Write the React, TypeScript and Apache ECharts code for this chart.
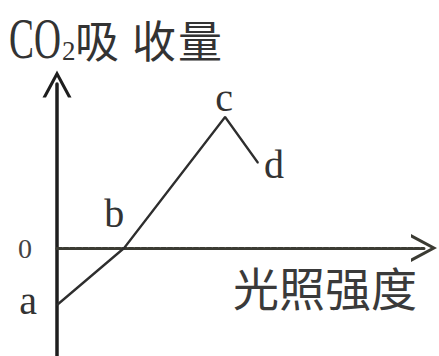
import React, { useEffect, useRef } from "react";
import * as echarts from "echarts";

// Data
const pointNames = ["a", "b", "c", "d"];
const lightIntensity = [0, 1.83, 4.58, 5.48];
const co2Uptake = [-1.425, 0, 3.275, 2.125];
const yTickValues = [0];
const xAxisTitle = "光照强度";
const yAxisTitleLatin = "CO";
const yAxisTitleSub = "2";
const yAxisTitleChars = ["吸", "收", "量"];

// label placement (pixels, relative to each point)
const labelOffsets: [number, number][] = [
  [-29, -5],
  [-10, -35],
  [-1, -20],
  [16, 1],
];
const titleCharX = [97, 154, 200];

const INK = "#2e2e2e";
const SERIF = "'Liberation Serif', 'DejaVu Serif', serif";
const CJK = "'Noto Sans CJK SC', sans-serif";

export default function App() {
  const ref = useRef<HTMLDivElement>(null);
  useEffect(() => {
    if (!ref.current) return;
    const chart = echarts.init(ref.current, null, { renderer: "svg" });
    const upChevron =
      "path://M0,27 L14.5,0 L29,27 L25.5,27 L14.5,6.5 L3.5,27 Z";
    chart.setOption({
      animation: false,
      backgroundColor: "#ffffff",
      grid: { left: 57, right: 15, top: 84, bottom: 0, containLabel: false },
      xAxis: {
        type: "value",
        min: 0,
        max: 10,
        axisLine: {
          show: true,
          onZero: true,
          symbol: ["none", upChevron],
          symbolSize: [30, 26],
          lineStyle: { color: "#3b3b33", width: 3, type: [5, 1.5] },
        },
        axisTick: { show: false },
        axisLabel: { show: false },
        splitLine: { show: false },
      },
      yAxis: {
        type: "value",
        min: -2.7,
        max: 4.1,
        axisLine: {
          show: true,
          onZero: true,
          symbol: ["none", upChevron],
          symbolSize: [29, 27],
          lineStyle: { color: "#1e1e1e", width: 3.5 },
        },
        axisTick: { show: false },
        splitLine: { show: false },
        axisLabel: {
          show: true,
          customValues: yTickValues,
          margin: 25,
          fontFamily: SERIF,
          fontSize: 28,
          color: "#444",
        },
      },
      series: [
        {
          type: "line",
          data: lightIntensity.map((x, i) => ({
            value: [x, co2Uptake[i]],
            name: pointNames[i],
            label: {
              show: true,
              position: "inside",
              offset: labelOffsets[i],
              formatter: pointNames[i],
            },
          })),
          symbol: "circle",
          symbolSize: 1,
          itemStyle: { color: INK },
          lineStyle: { color: INK, width: 2.3 },
          label: {
            fontFamily: SERIF,
            fontSize: 40,
            color: "#333",
          },
          z: 5,
        },
      ],
      graphic: [
        {
          type: "text",
          x: 9,
          y: 39,
          scaleX: 0.78,
          scaleY: 1.17,
          style: {
            text: yAxisTitleLatin,
            fontFamily: SERIF,
            fontSize: 48,
            fill: "#333",
            textAlign: "left",
            textVerticalAlign: "middle",
          },
        },
        {
          type: "text",
          x: 62,
          y: 51,
          style: {
            text: yAxisTitleSub,
            fontFamily: SERIF,
            fontSize: 27,
            fill: "#333",
            textAlign: "left",
            textVerticalAlign: "middle",
          },
        },
        ...yAxisTitleChars.map((ch, i) => ({
          type: "text",
          x: titleCharX[i],
          y: 39,
          style: {
            text: ch,
            fontFamily: CJK,
            fontSize: 44,
            fill: "#333",
            textAlign: "center",
            textVerticalAlign: "middle",
          },
        })),
        {
          type: "text",
          x: 233,
          y: 286,
          style: {
            text: xAxisTitle,
            fontFamily: CJK,
            fontSize: 46,
            fill: "#3a3a3a",
            textAlign: "left",
            textVerticalAlign: "middle",
          },
        },
      ],
    });
    return () => chart.dispose();
  }, []);
  return (
    <div
      ref={ref}
      style={{ position: "absolute", left: 0, top: 0, width: 439, height: 356 }}
    />
  );
}
